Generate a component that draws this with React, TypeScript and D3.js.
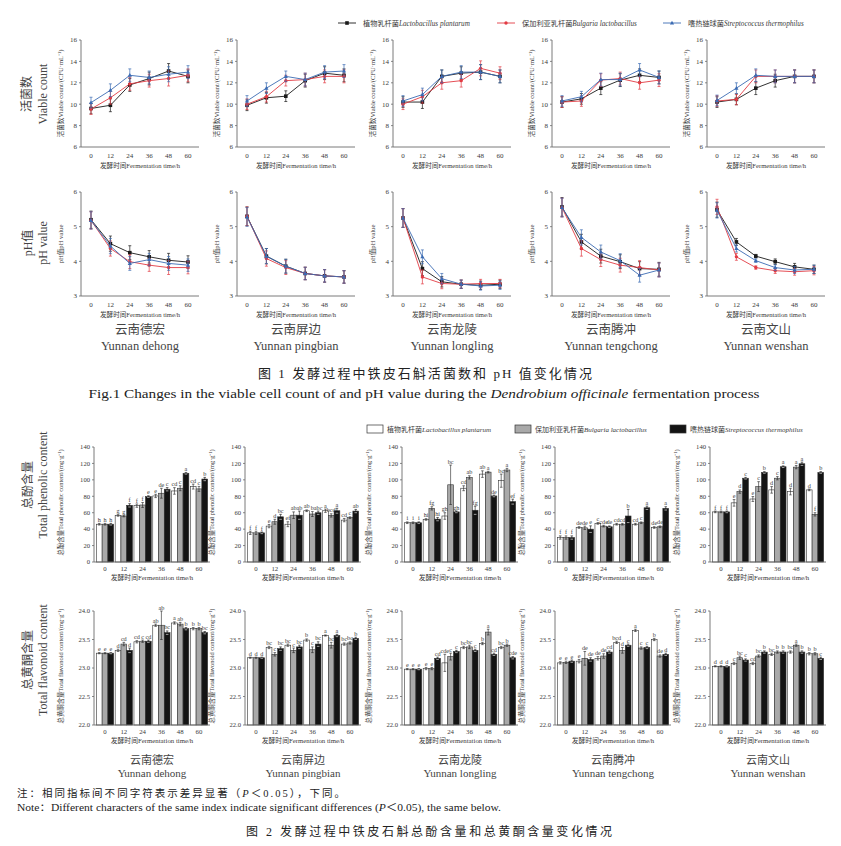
import React from "react"
import * as d3 from "d3"

const times = [0, 12, 24, 36, 48, 60]
const siteZh = ["云南德宏", "云南屏边", "云南龙陵", "云南腾冲", "云南文山"]
const siteEn = ["Yunnan dehong", "Yunnan pingbian", "Yunnan longling", "Yunnan tengchong", "Yunnan wenshan"]
const strainZh = ["植物乳杆菌", "保加利亚乳杆菌", "嗜热链球菌"]
const strainEn = ["Lactobacillus plantarum", "Bulgaria lactobacillus", "Streptococcus thermophilus"]

// viable count, one row per site
const viableLp = [
  [9.6, 9.9, 11.8, 12.4, 13.1, 12.6],
  [9.9, 10.6, 10.75, 12.2, 12.9, 12.7],
  [10.2, 10.2, 12.6, 12.9, 13.0, 12.6],
  [10.2, 10.5, 11.5, 12.25, 12.7, 12.5],
  [10.2, 10.45, 11.5, 12.2, 12.6, 12.6],
]
const viableBl = [
  [9.55, 10.6, 11.9, 12.2, 12.4, 12.7],
  [10.0, 10.7, 12.2, 12.3, 12.6, 12.6],
  [10.0, 10.7, 12.0, 12.2, 13.35, 12.9],
  [10.2, 10.3, 12.25, 12.4, 12.0, 12.25],
  [10.3, 10.45, 12.6, 12.6, 12.6, 12.6],
]
const viableSt = [
  [10.15, 11.3, 12.7, 12.5, 12.8, 13.0],
  [10.3, 11.5, 12.6, 12.3, 13.0, 13.1],
  [10.3, 10.9, 12.6, 13.0, 13.0, 12.6],
  [10.3, 10.7, 12.3, 12.3, 13.2, 12.5],
  [10.35, 11.5, 12.7, 12.6, 12.6, 12.6],
]
const viableErr = [
  [0.5, 0.6, 0.6, 0.6, 0.7, 0.6],
  [0.5, 0.5, 0.5, 0.6, 0.6, 0.6],
  [0.5, 0.6, 0.6, 0.6, 0.7, 0.6],
  [0.5, 0.5, 0.6, 0.6, 0.6, 0.6],
  [0.5, 0.5, 0.6, 0.6, 0.6, 0.6],
]

// pH value
const phLp = [
  [5.2, 4.51, 4.25, 4.13, 4.03, 3.98],
  [5.3, 4.15, 3.86, 3.65, 3.58, 3.55],
  [5.25, 3.79, 3.41, 3.34, 3.31, 3.34],
  [5.57, 4.56, 4.15, 3.99, 3.79, 3.77],
  [5.49, 4.56, 4.15, 3.99, 3.84, 3.77],
]
const phBl = [
  [5.18, 4.37, 3.99, 3.89, 3.82, 3.82],
  [5.3, 4.08, 3.82, 3.65, 3.58, 3.55],
  [5.25, 3.55, 3.36, 3.34, 3.36, 3.36],
  [5.55, 4.37, 4.05, 3.89, 3.82, 3.75],
  [5.57, 4.13, 3.82, 3.73, 3.7, 3.73],
]
const phSt = [
  [5.18, 4.44, 3.94, 4.05, 3.94, 3.89],
  [5.28, 4.15, 3.86, 3.65, 3.58, 3.55],
  [5.25, 4.13, 3.5, 3.34, 3.29, 3.31],
  [5.55, 4.69, 4.27, 4.02, 3.6, 3.75],
  [5.47, 4.37, 4.02, 3.82, 3.75, 3.77],
]
const phErr = [
  [0.25, 0.22, 0.2, 0.18, 0.2, 0.18],
  [0.27, 0.22, 0.2, 0.18, 0.18, 0.18],
  [0.27, 0.2, 0.15, 0.12, 0.12, 0.12],
  [0.27, 0.22, 0.2, 0.2, 0.2, 0.2],
  [0.22, 0.1, 0.05, 0.08, 0.1, 0.12],
]

// total phenolic content
const phenLp = [
  [46, 56.7, 68.6, 80.4, 86.5, 91.8],
  [35.5, 43.7, 46, 62.4, 62.4, 51],
  [47.8, 51.8, 56, 89.8, 107, 99],
  [29.8, 42, 47, 46, 46, 42],
  [61, 72, 76.7, 87.8, 85.7, 87.8],
]
const phenBl = [
  [46, 56, 69.4, 83.7, 89.8, 89],
  [35.5, 49, 57, 58.4, 56.7, 54],
  [47.8, 65.3, 94, 103, 109.4, 112],
  [29.8, 41.6, 43.7, 46, 47.8, 42.9],
  [61, 85.7, 91.8, 102, 115.5, 58],
]
const phenSt = [
  [46, 69, 79.6, 88.6, 108, 101],
  [35.5, 55, 57, 60, 62.4, 62],
  [47.8, 52.2, 61, 63, 80.4, 73.5],
  [29.8, 40, 42.9, 56, 66, 65.3],
  [61, 102, 109, 116, 119.6, 109],
]
const phenErrLp = [
  [1, 1, 2, 2, 4, 3],
  [2, 2, 3, 1, 2, 2],
  [1, 1, 4, 3, 4, 8],
  [2, 1, 1, 1, 1, 1],
  [1, 4, 3, 4, 4, 1],
]
const phenErrBl = [
  [1, 1, 3, 6, 3, 3],
  [2, 3, 4, 3, 2, 1],
  [1, 2, 24, 2, 1, 2],
  [2, 2, 1, 1, 1, 1],
  [1, 2, 6, 2, 2, 2],
]
const phenErrSt = [
  [1, 2, 1, 2, 1, 2],
  [1, 3, 5, 2, 3, 2],
  [1, 2, 1, 5, 1, 3],
  [2, 4, 1, 8, 2, 2],
  [1, 1, 1, 1, 2, 1],
]
const phenLetLp = [
  ["h", "g", "f", "e", "cd", "cd"],
  ["f", "e", "ef", "ab", "a", "cd"],
  ["i", "hi", "gh", "cd", "ab", "bc"],
  ["f", "de", "c", "cd", "cd", "de"],
  ["f", "e", "e", "d", "d", "d"],
]
const phenLetBl = [
  ["h", "g", "f", "de", "c", "c"],
  ["f", "d", "ab", "b", "bcd", "c"],
  ["i", "fg", "bc", "ab", "a", "a"],
  ["f", "de", "cde", "cd", "c", "de"],
  ["f", "d", "c", "c", "a", "f"],
]
const phenLetSt = [
  ["h", "f", "e", "c", "a", "b"],
  ["f", "bc", "ab", "abc", "a", "ab"],
  ["i", "hi", "gh", "fg", "de", "ef"],
  ["f", "e", "de", "b", "a", "a"],
  ["f", "c", "b", "a", "a", "b"],
]

// total flavonoid content
const flavLp = [
  [23.26, 23.31, 23.46, 23.75, 23.79, 23.69],
  [23.18, 23.36, 23.4, 23.49, 23.57, 23.42],
  [22.98, 22.99, 23.09, 23.36, 23.43, 23.36],
  [23.09, 23.12, 23.17, 23.45, 23.66, 23.5],
  [23.03, 23.08, 23.08, 23.24, 23.28, 23.25],
]
const flavBl = [
  [23.26, 23.42, 23.47, 23.75, 23.77, 23.69],
  [23.18, 23.24, 23.31, 23.32, 23.4, 23.44],
  [22.98, 22.99, 23.2, 23.37, 23.63, 23.4],
  [23.1, 23.17, 23.21, 23.31, 23.35, 23.21],
  [23.03, 23.18, 23.21, 23.28, 23.4, 23.25],
]
const flavSt = [
  [23.26, 23.31, 23.47, 23.62, 23.69, 23.62],
  [23.18, 23.34, 23.37, 23.42, 23.57, 23.52],
  [22.98, 23.17, 23.29, 23.31, 23.24, 23.18],
  [23.12, 23.15, 23.28, 23.4, 23.36, 23.24],
  [23.03, 23.14, 23.28, 23.28, 23.28, 23.17],
]
const flavErrLp = [
  [0.01, 0.02, 0.02, 0.02, 0.02, 0.02],
  [0.01, 0.02, 0.02, 0.02, 0.01, 0.02],
  [0.01, 0.02, 0.15, 0.02, 0.02, 0.02],
  [0.02, 0.03, 0.03, 0.02, 0.02, 0.02],
  [0.01, 0.02, 0.02, 0.02, 0.02, 0.02],
]
const flavErrBl = [
  [0.01, 0.03, 0.02, 0.25, 0.03, 0.02],
  [0.01, 0.03, 0.04, 0.05, 0.05, 0.02],
  [0.01, 0.02, 0.06, 0.03, 0.05, 0.02],
  [0.02, 0.12, 0.04, 0.05, 0.02, 0.02],
  [0.01, 0.03, 0.02, 0.02, 0.02, 0.02],
]
const flavErrSt = [
  [0.01, 0.04, 0.02, 0.03, 0.02, 0.02],
  [0.01, 0.03, 0.03, 0.04, 0.02, 0.02],
  [0.01, 0.02, 0.02, 0.02, 0.02, 0.02],
  [0.02, 0.03, 0.02, 0.02, 0.02, 0.02],
  [0.01, 0.02, 0.02, 0.02, 0.02, 0.02],
]
const flavLetLp = [
  ["e", "d", "cd", "ab", "a", "b"],
  ["d", "bc", "bc", "b", "a", "bc"],
  ["e", "e", "cde", "bc", "b", "bc"],
  ["e", "e", "de", "bcd", "a", "b"],
  ["d", "c", "cd", "bc", "bc", "b"],
]
const flavLetBl = [
  ["e", "cd", "c", "ab", "ab", "b"],
  ["d", "c", "c", "c", "bc", "bc"],
  ["e", "e", "c", "bc", "a", "b"],
  ["e", "de", "de", "d", "c", "de"],
  ["d", "bc", "bc", "b", "a", "b"],
]
const flavLetSt = [
  ["e", "d", "cd", "bc", "b", "bc"],
  ["d", "bc", "bc", "bc", "a", "b"],
  ["e", "cd", "c", "c", "cd", "cde"],
  ["e", "de", "cd", "c", "c", "d"],
  ["d", "c", "b", "b", "b", "c"],
]

const SERIF = "'Liberation Serif','Times New Roman','Noto Sans CJK SC',serif"
const lineColors = ["#1a1a1a", "#e23b43", "#3b6bb3"]
const barFills = ["#ffffff", "#a9a9a9", "#141414"]
const axisColor = "#6b6b6b"
const textColor = "#3a3a3a"

const lineX0 = [81, 237, 393, 552, 707]
const barX0 = [94, 245, 402, 555, 710]

function Marker({ kind, x, y, color }: { kind: number; x: number; y: number; color: string }) {
  if (kind === 0) return <rect x={x - 1.8} y={y - 1.8} width={3.6} height={3.6} fill={color} />
  if (kind === 1) return <circle cx={x} cy={y} r={1.7} fill={color} />
  return <path d={`M${x},${y - 2.2}L${x + 2.1},${y + 1.5}L${x - 2.1},${y + 1.5}Z`} fill={color} />
}

function LinePanel({ x0, top, bottom, domain, ticks, series, err, ylabel, names, site }: any) {
  const x = d3.scaleLinear().domain([0, 60]).range([x0 + 10, x0 + 107])
  const y = d3.scaleLinear().domain(domain).range([bottom, top])
  const line = d3
    .line<number>()
    .x((_, i) => x(times[i]))
    .y((d) => y(d))
  return (
    <g>
      <line x1={x0} x2={x0} y1={top} y2={bottom} stroke={axisColor} strokeWidth={0.9} />
      <line x1={x0} x2={x0 + 118} y1={bottom} y2={bottom} stroke={axisColor} strokeWidth={0.9} />
      {ticks.map((t: number) => (
        <g key={t}>
          <line x1={x0 - 2} x2={x0} y1={y(t)} y2={y(t)} stroke={axisColor} strokeWidth={0.8} />
          <text x={x0 - 4} y={y(t) + 2.4} fontSize={7} textAnchor="end" fill={textColor}>
            {t}
          </text>
        </g>
      ))}
      {times.map((t) => (
        <text key={t} x={x(t)} y={bottom + 11} fontSize={7} textAnchor="middle" fill={textColor}>
          {t}
        </text>
      ))}
      <text x={x0 + 59} y={bottom + 21} fontSize={6.6} textAnchor="middle" fill={textColor}>
        发酵时间Fermentation time/h
      </text>
      <text
        transform={`translate(${x0 - 18},${(top + bottom) / 2}) rotate(-90)`}
        fontSize={6.6}
        textAnchor="middle"
        fill={textColor}
      >
        {ylabel}
      </text>
      {series.map((s: number[], k: number) => (
        <g key={k}>
          <path d={line(s) || ""} fill="none" stroke={lineColors[k]} strokeWidth={0.9} />
          {s.map((v, i) => (
            <g key={i}>
              <line x1={x(times[i])} x2={x(times[i])} y1={y(v - err[i])} y2={y(v + err[i])} stroke={lineColors[k]} strokeWidth={0.7} />
              <line x1={x(times[i]) - 1.5} x2={x(times[i]) + 1.5} y1={y(v - err[i])} y2={y(v - err[i])} stroke={lineColors[k]} strokeWidth={0.7} />
              <line x1={x(times[i]) - 1.5} x2={x(times[i]) + 1.5} y1={y(v + err[i])} y2={y(v + err[i])} stroke={lineColors[k]} strokeWidth={0.7} />
              <Marker kind={k} x={x(times[i])} y={y(v)} color={lineColors[k]} />
            </g>
          ))}
        </g>
      ))}
      {names && (
        <g fill="#444">
          <text x={x0 + 59} y={bottom + 38} fontSize={12.5} textAnchor="middle">
            {siteZh[site]}
          </text>
          <text x={x0 + 59} y={bottom + 54} fontSize={12.5} textAnchor="middle">
            {siteEn[site]}
          </text>
        </g>
      )}
    </g>
  )
}

function BarPanel({ x0, top, bottom, domain, ticks, fmt, series, errs, lets, ylabel, names, site }: any) {
  const x = d3.scaleBand<number>().domain(times).range([x0 + 2, x0 + 114]).paddingInner(0.08).paddingOuter(0.02)
  const sub = d3.scaleBand<number>().domain([0, 1, 2]).range([0, x.bandwidth()])
  const y = d3.scaleLinear().domain(domain).range([bottom, top])
  return (
    <g>
      {times.map((t, i) => (
        <g key={t}>
          {series.map((s: number[], k: number) => {
            const bx = (x(t) || 0) + (sub(k) || 0)
            const bw = sub.bandwidth()
            const cx = bx + bw / 2
            const v = s[i]
            const e = errs[k][i]
            const errCol = k === 2 ? "#111" : "#222"
            return (
              <g key={k}>
                <rect x={bx} y={y(v)} width={bw} height={bottom - y(v)} fill={barFills[k]} stroke="#333" strokeWidth={0.6} />
                <line x1={cx} x2={cx} y1={y(v - e)} y2={y(v + e)} stroke={errCol} strokeWidth={0.6} />
                <line x1={cx - 1.3} x2={cx + 1.3} y1={y(v + e)} y2={y(v + e)} stroke={errCol} strokeWidth={0.6} />
                <line x1={cx - 1.3} x2={cx + 1.3} y1={y(v - e)} y2={y(v - e)} stroke={k === 2 ? "#fff" : errCol} strokeWidth={0.6} />
                <text x={cx} y={y(v + e) - 1.5} fontSize={6.2} textAnchor="middle" fill={textColor}>
                  {lets[k][i]}
                </text>
              </g>
            )
          })}
          <text x={(x(t) || 0) + x.bandwidth() / 2} y={bottom + 9} fontSize={6.8} textAnchor="middle" fill={textColor}>
            {t}
          </text>
        </g>
      ))}
      <line x1={x0} x2={x0} y1={top} y2={bottom} stroke={axisColor} strokeWidth={0.9} />
      <line x1={x0} x2={x0 + 116} y1={bottom} y2={bottom} stroke={axisColor} strokeWidth={0.9} />
      {ticks.map((t: number) => (
        <g key={t}>
          <line x1={x0 - 2} x2={x0} y1={y(t)} y2={y(t)} stroke={axisColor} strokeWidth={0.8} />
          <text x={x0 - 4} y={y(t) + 2.3} fontSize={6.6} textAnchor="end" fill={textColor}>
            {fmt(t)}
          </text>
        </g>
      ))}
      <text x={x0 + 58} y={bottom + 18} fontSize={6.8} textAnchor="middle" fill={textColor}>
        发酵时间Fermentation time/h
      </text>
      <text
        transform={`translate(${x0 - 31},${(top + bottom) / 2 - 2}) rotate(-90)`}
        fontSize={6.4}
        textAnchor="middle"
        fill={textColor}
      >
        {ylabel}
      </text>
      {names && (
        <g fill="#444">
          <text x={x0 + 58} y={bottom + 39} fontSize={11} textAnchor="middle">
            {siteZh[site]}
          </text>
          <text x={x0 + 58} y={bottom + 52} fontSize={11} textAnchor="middle">
            {siteEn[site]}
          </text>
        </g>
      )}
    </g>
  )
}

function RowLabel({ x, y, zh, en, dx }: any) {
  return (
    <g fill="#444" fontSize={12}>
      <text transform={`translate(${x},${y}) rotate(-90)`} textAnchor="middle">
        {zh}
      </text>
      <text transform={`translate(${x + dx},${y}) rotate(-90)`} textAnchor="middle">
        {en}
      </text>
    </g>
  )
}

export default function App() {
  const legendLineX = [338, 497, 663]
  const legendBoxX = [367, 515, 670]
  return (
    <svg
      width={841}
      height={846}
      style={{ position: "absolute", left: 0, top: 0, background: "#fff" }}
      fontFamily={SERIF}
    >
      <rect width={841} height={846} fill="#fff" />

      {/* line legend */}
      {strainZh.map((zh, k) => (
        <g key={k}>
          <line x1={legendLineX[k]} x2={legendLineX[k] + 18} y1={23} y2={23} stroke={lineColors[k]} strokeWidth={0.9} />
          <Marker kind={k} x={legendLineX[k] + 9} y={23} color={lineColors[k]} />
          <text x={legendLineX[k] + 25} y={25.5} fontSize={7.2} fill={textColor}>
            {zh}
            <tspan fontStyle="italic">{strainEn[k]}</tspan>
          </text>
        </g>
      ))}

      <RowLabel x={31} y={94} zh="活菌数" en="Viable count" dx={16} />
      <RowLabel x={32} y={243} zh="pH值" en="pH value" dx={15} />

      {lineX0.map((x0, s) => (
        <LinePanel
          key={"v" + s}
          x0={x0}
          top={40}
          bottom={147}
          domain={[6, 16]}
          ticks={[6, 8, 10, 12, 14, 16]}
          series={[viableLp[s], viableBl[s], viableSt[s]]}
          err={viableErr[s]}
          ylabel="活菌数Viable count/(CFU·mL⁻¹)"
          names={false}
          site={s}
        />
      ))}
      {lineX0.map((x0, s) => (
        <LinePanel
          key={"p" + s}
          x0={x0}
          top={192}
          bottom={296}
          domain={[3, 6]}
          ticks={[3, 4, 5, 6]}
          series={[phLp[s], phBl[s], phSt[s]]}
          err={phErr[s]}
          ylabel="pH值pH value"
          names={true}
          site={s}
        />
      ))}

      <text x={425} y={378} fontSize={13} textAnchor="middle" fill="#222" textLength={334} lengthAdjust="spacing">
        图 1    发酵过程中铁皮石斛活菌数和 pH 值变化情况
      </text>
      <text x={424} y={398} fontSize={13} textAnchor="middle" fill="#222" textLength={671} lengthAdjust="spacingAndGlyphs">
        Fig.1    Changes in the viable cell count of and pH value during the{" "}
        <tspan fontStyle="italic">Dendrobium officinale</tspan> fermentation process
      </text>

      {/* bar legend */}
      {strainZh.map((zh, k) => (
        <g key={k}>
          <rect x={legendBoxX[k]} y={425} width={16} height={8} fill={barFills[k]} stroke="#333" strokeWidth={0.7} />
          <text x={legendBoxX[k] + 20} y={431.5} fontSize={7} fill={textColor}>
            {zh}
            <tspan fontStyle="italic">{strainEn[k]}</tspan>
          </text>
        </g>
      ))}

      <RowLabel x={32} y={485} zh="总酚含量" en="Total phenolic content" dx={15} />
      <RowLabel x={32} y={660} zh="总黄酮含量" en="Total flavonoid content" dx={15} />

      {barX0.map((x0, s) => (
        <BarPanel
          key={"ph" + s}
          x0={x0}
          top={447}
          bottom={562}
          domain={[0, 140]}
          ticks={d3.range(0, 141, 20)}
          fmt={(t: number) => String(t)}
          series={[phenLp[s], phenBl[s], phenSt[s]]}
          errs={[phenErrLp[s], phenErrBl[s], phenErrSt[s]]}
          lets={[phenLetLp[s], phenLetBl[s], phenLetSt[s]]}
          ylabel="总酚含量Total phenolic content/(mg·g⁻¹)"
          names={false}
          site={s}
        />
      ))}
      {barX0.map((x0, s) => (
        <BarPanel
          key={"fl" + s}
          x0={x0}
          top={611}
          bottom={725}
          domain={[22, 24]}
          ticks={[22, 22.5, 23, 23.5, 24]}
          fmt={d3.format(".1f")}
          series={[flavLp[s], flavBl[s], flavSt[s]]}
          errs={[flavErrLp[s], flavErrBl[s], flavErrSt[s]]}
          lets={[flavLetLp[s], flavLetBl[s], flavLetSt[s]]}
          ylabel="总黄酮含量Total flavonoid content/(mg·g⁻¹)"
          names={true}
          site={s}
        />
      ))}

      <text x={17} y={797} fontSize={10.5} fill="#222" textLength={328} lengthAdjust="spacing">
        注：相同指标间不同字符表示差异显著（<tspan fontStyle="italic">P</tspan>＜0.05），下同。
      </text>
      <text x={17} y={811} fontSize={10.5} fill="#222" textLength={484} lengthAdjust="spacingAndGlyphs">
        Note：Different characters of the same index indicate significant differences (<tspan fontStyle="italic">P</tspan>＜0.05), the same below.
      </text>
      <text x={429} y={836} fontSize={12} textAnchor="middle" fill="#222" textLength={366} lengthAdjust="spacing">
        图 2    发酵过程中铁皮石斛总酚含量和总黄酮含量变化情况
      </text>
    </svg>
  )
}
